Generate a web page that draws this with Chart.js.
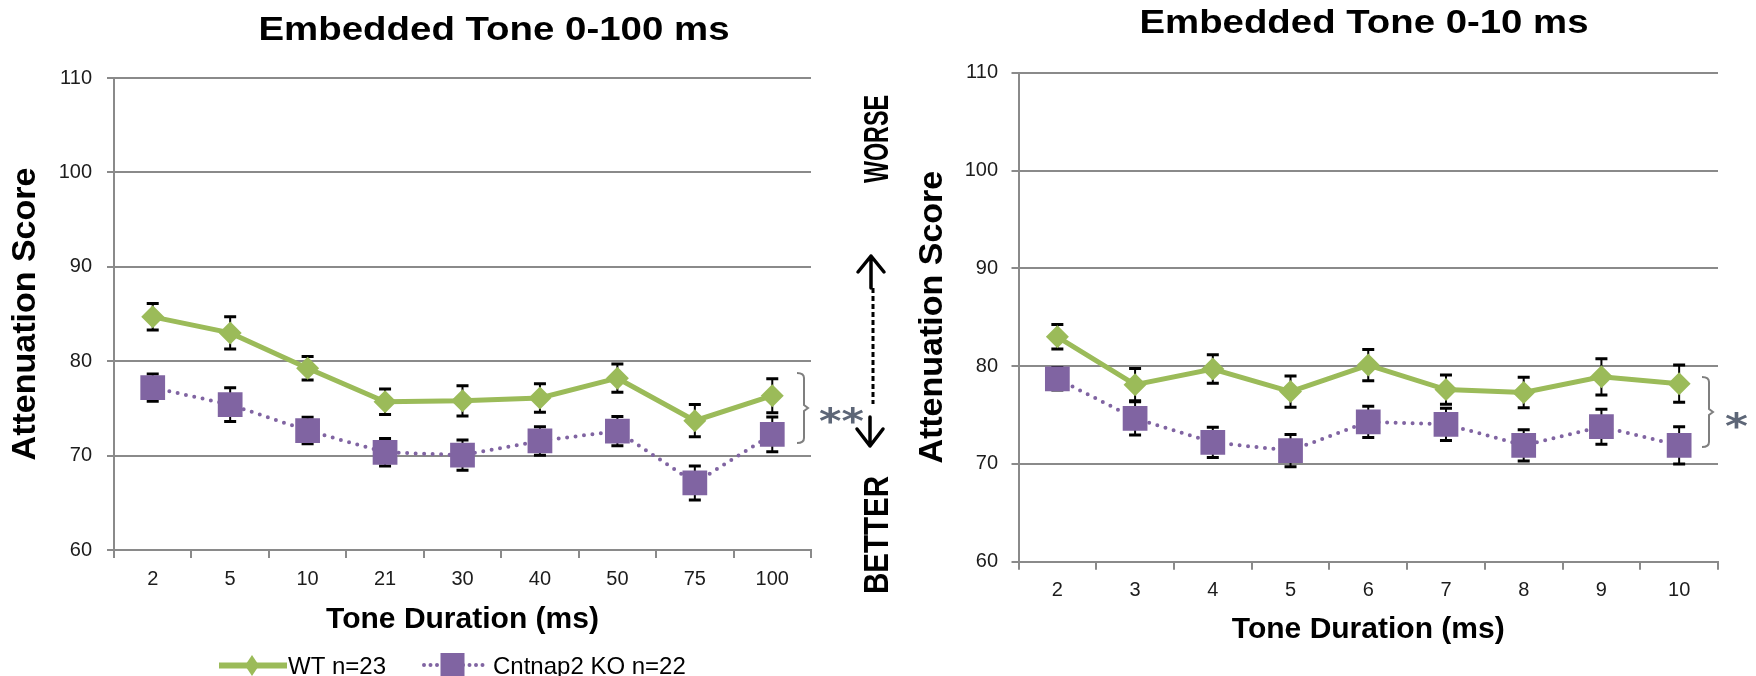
<!DOCTYPE html>
<html>
<head>
<meta charset="utf-8">
<script src="https://cdn.jsdelivr.net/npm/chart.js@4.4.1/dist/chart.umd.min.js"></script>
<style>
  html, body { margin: 0; padding: 0; background: #ffffff; width: 1756px; height: 676px; overflow: hidden; }
  #c1 { position: absolute; left: 0; top: 0; width: 900px; height: 676px; }
  #c2 { position: absolute; left: 900px; top: 0; width: 856px; height: 676px; }
</style>
</head>
<body>
<canvas id="c1" width="900" height="676"></canvas>
<canvas id="c2" width="856" height="676"></canvas>
<script>
// ---------- data ----------
const durations100 = ['2', '5', '10', '21', '30', '40', '50', '75', '100'];
const wt100 = [84.7, 83.0, 79.25, 75.7, 75.8, 76.1, 78.2, 73.7, 76.35];
const wt100Err = [1.4, 1.7, 1.25, 1.35, 1.6, 1.5, 1.5, 1.7, 1.8];
const ko100 = [77.2, 75.4, 72.65, 70.35, 70.05, 71.55, 72.6, 67.1, 72.25];
const ko100Err = [1.45, 1.8, 1.4, 1.45, 1.6, 1.5, 1.55, 1.8, 1.85];

const durations10 = ['2', '3', '4', '5', '6', '7', '8', '9', '10'];
const wt10 = [83.0, 78.1, 79.7, 77.4, 80.1, 77.6, 77.3, 78.9, 78.2];
const wt10Err = [1.25, 1.65, 1.45, 1.6, 1.6, 1.5, 1.55, 1.85, 1.9];
const ko10 = [78.7, 74.65, 72.2, 71.35, 74.3, 74.05, 71.9, 73.8, 71.9];
const ko10Err = [1.15, 1.7, 1.55, 1.65, 1.6, 1.65, 1.6, 1.8, 1.9];

const yTicksMin = 60, yTicksMax = 110, yTickStep = 10;
const seriesNames = ['WT n=23', 'Cntnap2 KO n=22'];
const titles = ['Embedded Tone 0-100 ms', 'Embedded Tone 0-10 ms'];
const xTitle = 'Tone Duration (ms)';
const yTitle = 'Attenuation Score';

// ---------- styles ----------
const GREEN = '#9BBB59';
const PURPLE = '#8064A2';
const GRID = '#8a8a8a';
const TICK = '#1c1c1c';
const FONT = '"Liberation Sans", Arial, Helvetica, sans-serif';

// ---------- helpers ----------
function fitText(ctx, text, cx, cy, o) {
  ctx.save();
  ctx.font = (o.weight || 'bold') + ' ' + o.size + 'px ' + (o.family || FONT);
  const m = ctx.measureText(text);
  const cap = ctx.measureText('H').actualBoundingBoxAscent;
  const sx = o.width ? o.width / m.width : 1;
  ctx.translate(cx, cy);
  if (o.rot) ctx.rotate(o.rot);
  ctx.scale(sx, 1);
  ctx.textAlign = 'center';
  ctx.textBaseline = 'alphabetic';
  ctx.fillStyle = o.color || '#000';
  ctx.fillText(text, 0, cap / 2);
  ctx.restore();
}

function fitGlyphs(ctx, text, cx, cy, w, h, color) {
  ctx.save();
  ctx.font = 'bold 40px "DejaVu Sans", sans-serif';
  const m = ctx.measureText(text);
  const gw = m.actualBoundingBoxLeft + m.actualBoundingBoxRight;
  const gh = m.actualBoundingBoxAscent + m.actualBoundingBoxDescent;
  ctx.translate(cx, cy);
  ctx.scale(w / gw, h / gh);
  ctx.textAlign = 'left';
  ctx.textBaseline = 'alphabetic';
  ctx.fillStyle = color;
  ctx.fillText(text, -(m.actualBoundingBoxRight - m.actualBoundingBoxLeft) / 2,
               (m.actualBoundingBoxAscent - m.actualBoundingBoxDescent) / 2);
  ctx.restore();
}

function drawBrace(ctx, x0, x1, yTop, yBot, spikeX) {
  const ym = (yTop + yBot) / 2;
  ctx.save();
  ctx.strokeStyle = '#7f7f7f';
  ctx.lineWidth = 2;
  ctx.beginPath();
  ctx.moveTo(x0, yTop);
  ctx.quadraticCurveTo(x1, yTop, x1, yTop + 5);
  ctx.lineTo(x1, ym - 3);
  ctx.lineTo(spikeX, ym);
  ctx.lineTo(x1, ym + 3);
  ctx.lineTo(x1, yBot - 5);
  ctx.quadraticCurveTo(x1, yBot, x0, yBot);
  ctx.stroke();
  ctx.restore();
}

function makeErrorBars(errList) {
  return {
    id: 'errorBars',
    beforeDatasetsDraw(chart) {
      const { ctx, scales: { x, y } } = chart;
      ctx.save();
      ctx.strokeStyle = '#000';
      chart.data.datasets.forEach((ds, di) => {
        const errs = errList[di];
        ds.data.forEach((v, i) => {
          const px = x.getPixelForValue(i);
          const top = y.getPixelForValue(v + errs[i]);
          const bot = y.getPixelForValue(v - errs[i]);
          ctx.lineWidth = 2;
          ctx.beginPath();
          ctx.moveTo(px, top); ctx.lineTo(px, bot);
          ctx.stroke();
          ctx.lineWidth = 3;
          ctx.beginPath();
          ctx.moveTo(px - 6, top); ctx.lineTo(px + 6, top);
          ctx.moveTo(px - 6, bot); ctx.lineTo(px + 6, bot);
          ctx.stroke();
        });
      });
      ctx.restore();
    }
  };
}

function makeChart(id, cfg) {
  return new Chart(document.getElementById(id), {
    type: 'line',
    data: {
      labels: cfg.labels,
      datasets: [
        {
          label: seriesNames[0], data: cfg.wt,
          borderColor: GREEN, backgroundColor: GREEN, borderWidth: 5, tension: 0,
          pointStyle: 'rectRot', pointRadius: 11.5, pointHoverRadius: 11.5,
          pointBackgroundColor: GREEN, pointBorderWidth: 0, order: 2
        },
        {
          label: seriesNames[1], data: cfg.ko,
          borderColor: PURPLE, backgroundColor: PURPLE, borderWidth: 4, tension: 0,
          borderDash: [0, 8.5], borderCapStyle: 'round',
          pointStyle: 'rect', pointRadius: 17.5, pointHoverRadius: 17.5,
          pointBackgroundColor: PURPLE, pointBorderWidth: 0, order: 1
        }
      ]
    },
    options: {
      responsive: false,
      animation: false,
      devicePixelRatio: 1,
      events: [],
      layout: { padding: { left: 0, right: cfg.padRight, top: cfg.padTop, bottom: 0 } },
      plugins: { legend: { display: false }, title: { display: false }, tooltip: { enabled: false } },
      scales: {
        x: {
          type: 'category', offset: true,
          grid: { display: true, drawOnChartArea: false, drawTicks: true, tickLength: 8, offset: true, color: GRID, lineWidth: 2 },
          border: { display: true, color: GRID, width: 2 },
          ticks: { color: TICK, font: { family: FONT, size: 20 }, padding: cfg.xTickPad, maxRotation: 0, autoSkip: false },
          title: { display: true, text: xTitle, color: '#000', font: { family: FONT, size: 30, weight: 'bold' }, padding: { top: 0, bottom: cfg.xTitlePad } },
          afterFit: (s) => { s.height = cfg.xHeight; }
        },
        y: {
          min: yTicksMin, max: yTicksMax,
          ticks: { stepSize: yTickStep, color: TICK, font: { family: FONT, size: 20 }, padding: cfg.yTickPad },
          grid: { color: GRID, lineWidth: 2, drawTicks: true, tickLength: 7 },
          border: { display: true, color: GRID, width: 2 },
          title: { display: true, text: yTitle, color: '#000', font: { family: FONT, size: 34, weight: 'bold' }, padding: { top: cfg.yTitlePad, bottom: 0 } },
          afterFit: (s) => { s.width = cfg.yWidth; }
        }
      }
    },
    plugins: [makeErrorBars(cfg.errs), { id: 'decor', afterDraw: cfg.decor }]
  });
}

// ---------- left chart ----------
makeChart('c1', {
  labels: durations100, wt: wt100, ko: ko100, errs: [wt100Err, ko100Err],
  padRight: 89, padTop: 78, yWidth: 114, xHeight: 126,
  xTickPad: 9, xTitlePad: 38, yTickPad: 15, yTitlePad: 5.4,
  decor(chart) {
    const ctx = chart.ctx;
    // title
    fitText(ctx, titles[0], 494, 28.7, { size: 33.5, width: 471 });
    // brace + asterisks
    drawBrace(ctx, 797, 804, 373, 443, 808);
    fitGlyphs(ctx, '**', 841.5, 414, 45, 18, '#5d6677');
    // WORSE / BETTER with dashed double arrow
    fitText(ctx, 'WORSE', 876, 139, { size: 35, width: 88, rot: -Math.PI / 2 });
    fitText(ctx, 'BETTER', 876, 535, { size: 35, width: 118, rot: -Math.PI / 2 });
    ctx.save();
    ctx.strokeStyle = '#000';
    ctx.lineWidth = 3;
    ctx.setLineDash([5, 3]);
    ctx.beginPath(); ctx.moveTo(873, 288); ctx.lineTo(873, 404); ctx.stroke();
    ctx.setLineDash([]);
    ctx.lineWidth = 3.5;
    ctx.lineCap = 'round';
    ctx.lineJoin = 'round';
    ctx.beginPath();
    ctx.moveTo(871, 256); ctx.lineTo(871, 288);
    ctx.moveTo(858, 272); ctx.lineTo(871, 256); ctx.lineTo(884, 272);
    ctx.moveTo(870, 417); ctx.lineTo(870, 446);
    ctx.moveTo(857, 429); ctx.lineTo(870, 446); ctx.lineTo(883, 429);
    ctx.stroke();
    ctx.restore();
    // legend
    ctx.save();
    ctx.strokeStyle = GREEN; ctx.lineWidth = 6;
    ctx.beginPath(); ctx.moveTo(219, 665.5); ctx.lineTo(287, 665.5); ctx.stroke();
    ctx.fillStyle = GREEN;
    ctx.beginPath();
    ctx.moveTo(252, 655); ctx.lineTo(259, 665.5); ctx.lineTo(252, 676); ctx.lineTo(245, 665.5); ctx.closePath();
    ctx.fill();
    ctx.strokeStyle = PURPLE; ctx.lineWidth = 4; ctx.lineCap = 'round';
    ctx.setLineDash([0, 6.5]);
    ctx.beginPath(); ctx.moveTo(424, 665); ctx.lineTo(486, 665); ctx.stroke();
    ctx.setLineDash([]);
    ctx.fillStyle = PURPLE;
    ctx.fillRect(440.5, 653, 24, 24);
    ctx.fillStyle = '#000';
    ctx.font = '24px ' + FONT;
    ctx.textAlign = 'left';
    ctx.textBaseline = 'alphabetic';
    ctx.fillText(seriesNames[0], 288, 673.5);
    ctx.fillText(seriesNames[1], 493, 673.5);
    ctx.restore();
  }
});

// ---------- right chart ----------
makeChart('c2', {
  labels: durations10, wt: wt10, ko: ko10, errs: [wt10Err, ko10Err],
  padRight: 38, padTop: 72.7, yWidth: 118.5, xHeight: 114.3,
  xTickPad: 8.3, xTitlePad: 28, yTickPad: 13.5, yTitlePad: 12.6,
  decor(chart) {
    const ctx = chart.ctx;
    fitText(ctx, titles[1], 464, 21.7, { size: 32.5, width: 449 });
    drawBrace(ctx, 802, 809, 377, 447, 813);
    fitGlyphs(ctx, '*', 836.5, 419, 23, 18, '#5d6677');
  }
});
</script>
</body>
</html>
